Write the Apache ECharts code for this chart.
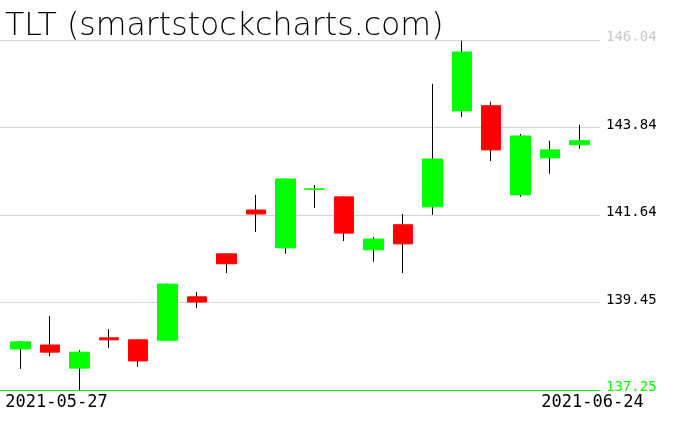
<!DOCTYPE html>
<html>
<head>
<meta charset="utf-8">
<script src="https://cdn.jsdelivr.net/npm/echarts@6/dist/echarts.min.js"></script>
<style>
  html, body { margin: 0; padding: 0; background: #fff; }
  #chart { width: 676px; height: 431px; }
</style>
</head>
<body>
<div id="chart"></div>
<script>
// TLT daily candles, 2021-05-27 .. 2021-06-24
const dates = ['2021-05-27', '2021-05-28', '2021-06-01', '2021-06-02', '2021-06-03',
  '2021-06-04', '2021-06-07', '2021-06-08', '2021-06-09', '2021-06-10',
  '2021-06-11', '2021-06-14', '2021-06-15', '2021-06-16', '2021-06-17',
  '2021-06-18', '2021-06-21', '2021-06-22', '2021-06-23', '2021-06-24'];
const opens = [138.28, 138.38, 137.80, 138.56, 138.51, 138.50, 139.59, 140.67, 141.77, 140.82,
  142.29, 142.10, 140.77, 141.40, 141.85, 144.26, 144.39, 142.15, 143.08, 143.41];
const closes = [138.46, 138.20, 138.20, 138.51, 137.98, 139.91, 139.46, 140.42, 141.67, 142.55,
  142.30, 141.19, 141.04, 140.92, 143.05, 145.74, 143.28, 143.63, 143.28, 143.51];
const lows = [137.78, 138.10, 137.25, 138.31, 137.83, 138.50, 139.31, 140.19, 141.22, 140.67,
  141.82, 140.99, 140.47, 140.19, 141.65, 144.11, 143.00, 142.10, 142.68, 143.31];
const highs = [138.48, 139.11, 138.25, 138.78, 138.52, 139.92, 139.71, 140.68, 142.15, 142.56,
  142.40, 142.11, 141.09, 141.67, 144.94, 146.02, 144.49, 143.68, 143.51, 143.91];
const yTicks = [137.25, 139.45, 141.64, 143.84, 146.04];

const chart = echarts.init(document.getElementById('chart'));

// wicks: full low..high range, drawn thin and black
const wickData = dates.map((d, i) => [i, opens[i], closes[i], lows[i], highs[i]]);
// bodies: no wick part, so the black wick stays visible only outside the body
const bodyData = dates.map((d, i) => {
  const lo = Math.min(opens[i], closes[i]);
  const hi = Math.max(opens[i], closes[i]);
  return [i, opens[i], closes[i], lo, hi];
});

const xMin = -0.7;
const xMax = dates.length - 0.3;

const option = {
  animation: false,
  title: {
    text: 'TLT (smartstockcharts.com)',
    left: 0,
    top: 6,
    textStyle: {
      fontFamily: 'DejaVu Sans',
      fontSize: 31.6,
      fontWeight: 200,
      color: '#000',
    },
  },
  grid: {
    left: 0,
    right: 76,
    top: 40,
    bottom: 41,
  },
  xAxis: {
    type: 'value',
    min: xMin,
    max: xMax,
    z: 1,
    splitLine: { show: false },
    axisTick: { show: false },
    axisLine: { show: true, lineStyle: { color: '#00ff00', width: 1 } },
    axisLabel: {
      show: true,
      showMinLabel: true,
      showMaxLabel: true,
      margin: 4,
      formatter(v) {
        if (v === xMin) return '{a|' + dates[0] + '}';
        if (v === xMax) return '{b|' + dates[dates.length - 1] + '}';
        return '';
      },
      rich: {
        a: { fontFamily: 'DejaVu Sans Mono', fontSize: 17, color: '#000', padding: [0, 0, 0, 113] },
        b: { fontFamily: 'DejaVu Sans Mono', fontSize: 17, color: '#000', padding: [0, 15, 0, 0] },
      },
    },
  },
  yAxis: {
    type: 'value',
    position: 'right',
    min: 137.25,
    max: 146.04,
    axisLine: { show: false },
    axisTick: { show: false, customValues: yTicks },
    splitLine: { show: true, lineStyle: { color: '#d3d3d3', width: 1 } },
    axisLabel: {
      customValues: yTicks,
      margin: 6,
      verticalAlign: 'bottom',
      formatter(v) {
        const s = v.toFixed(2);
        if (v === yTicks[0]) return '{g|' + s + '}';
        if (v === yTicks[yTicks.length - 1]) return '{l|' + s + '}';
        return '{k|' + s + '}';
      },
      rich: {
        g: { fontFamily: 'DejaVu Sans Mono', fontSize: 14, lineHeight: 5, color: '#00ff00' },
        l: { fontFamily: 'DejaVu Sans Mono', fontSize: 14, lineHeight: 5, color: '#c8c8c8' },
        k: { fontFamily: 'DejaVu Sans Mono', fontSize: 14, lineHeight: 5, color: '#000' },
      },
    },
  },
  series: [
    {
      name: 'wick',
      type: 'candlestick',
      data: wickData,
      encode: { x: 0, y: [1, 2, 3, 4] },
      barWidth: 1,
      itemStyle: {
        color: '#000',
        color0: '#000',
        borderColor: '#000',
        borderColor0: '#000',
        borderWidth: 1,
      },
    },
    {
      name: 'TLT',
      type: 'candlestick',
      data: bodyData,
      encode: { x: 0, y: [1, 2, 3, 4] },
      barWidth: 20,
      itemStyle: {
        color: '#00ff00',
        color0: '#ff0000',
        borderColor: '#00ff00',
        borderColor0: '#ff0000',
        borderWidth: 1,
      },
    },
  ],
};
chart.setOption(option);
</script>
</body>
</html>
